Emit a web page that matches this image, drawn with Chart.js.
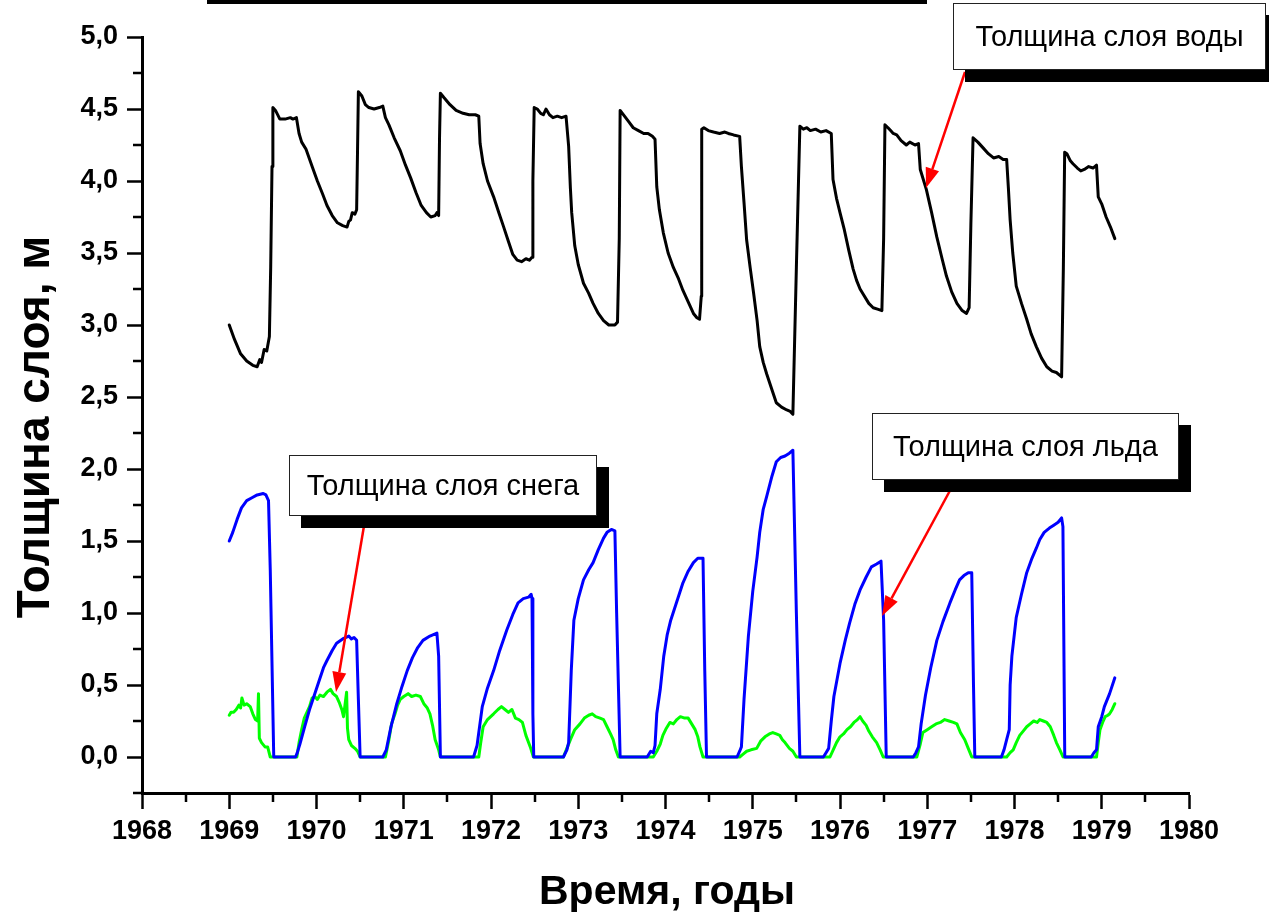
<!DOCTYPE html>
<html>
<head>
<meta charset="utf-8">
<script src="https://cdn.jsdelivr.net/npm/chart.js@4.4.1/dist/chart.umd.min.js"></script>
<style>
  html, body { margin: 0; padding: 0; background: #fff; }
  #wrap { width: 1269px; height: 917px; position: relative; }
</style>
</head>
<body>
<div id="wrap"><canvas id="c" width="1269" height="917"></canvas></div>
<script>
// Water layer thickness, m
const waterYears = [
  1969.00,1969.06,1969.13,1969.20,1969.27,1969.32,1969.35,1969.37,1969.40,1969.43,1969.46,1969.475,1969.49,1969.50,1969.53,1969.58,1969.64,1969.70,1969.73,1969.77,
  1969.80,1969.83,1969.88,1969.95,1970.01,1970.07,1970.12,1970.18,1970.24,1970.30,1970.35,1970.37,1970.39,1970.41,1970.44,1970.46,1970.47,1970.48,1970.52,1970.56,
  1970.60,1970.66,1970.72,1970.76,1970.79,1970.83,1970.89,1970.96,1971.02,1971.08,1971.14,1971.20,1971.26,1971.31,1971.36,1971.38,1971.40,1971.41,1971.42,1971.46,
  1971.53,1971.60,1971.68,1971.75,1971.82,1971.86,1971.875,1971.91,1971.96,1972.03,1972.09,1972.14,1972.20,1972.25,1972.30,1972.35,1972.40,1972.44,1972.47,1972.48,
  1972.495,1972.53,1972.57,1972.60,1972.63,1972.67,1972.71,1972.76,1972.81,1972.86,1972.89,1972.91,1972.925,1972.96,1973.00,1973.06,1973.12,1973.17,1973.23,1973.29,
  1973.35,1973.42,1973.45,1973.47,1973.48,1973.53,1973.58,1973.63,1973.69,1973.75,1973.80,1973.85,1973.88,1973.90,1973.93,1973.975,1974.03,1974.09,1974.15,1974.20,
  1974.26,1974.32,1974.36,1974.39,1974.41,1974.415,1974.44,1974.49,1974.55,1974.62,1974.68,1974.72,1974.78,1974.85,1974.87,1974.90,1974.93,1974.97,1975.01,1975.05,
  1975.08,1975.12,1975.16,1975.22,1975.27,1975.33,1975.39,1975.43,1975.46,1975.50,1975.54,1975.58,1975.62,1975.66,1975.72,1975.78,1975.84,1975.90,1975.92,1975.96,
  1976.00,1976.05,1976.10,1976.15,1976.19,1976.23,1976.27,1976.33,1976.38,1976.43,1976.48,1976.50,1976.515,1976.55,1976.58,1976.61,1976.65,1976.70,1976.76,1976.80,
  1976.86,1976.90,1976.92,1976.99,1977.05,1977.11,1977.17,1977.22,1977.28,1977.34,1977.40,1977.45,1977.48,1977.50,1977.525,1977.58,1977.64,1977.70,1977.76,1977.82,
  1977.87,1977.91,1977.93,1977.95,1977.98,1978.02,1978.08,1978.14,1978.19,1978.25,1978.31,1978.37,1978.43,1978.48,1978.52,1978.54,1978.56,1978.575,1978.60,1978.64,
  1978.67,1978.72,1978.76,1978.80,1978.85,1978.90,1978.94,1978.96,1979.00,1979.05,1979.10,1979.15
];
const waterDepth = [
  3.00,2.90,2.80,2.75,2.72,2.71,2.76,2.74,2.83,2.82,2.92,3.40,4.10,4.51,4.49,4.43,4.43,4.44,4.43,4.44,
  4.33,4.27,4.22,4.10,4.00,3.91,3.83,3.76,3.71,3.69,3.68,3.72,3.73,3.78,3.77,3.80,4.20,4.62,4.59,4.53,
  4.51,4.50,4.51,4.52,4.44,4.39,4.30,4.21,4.11,4.02,3.92,3.83,3.78,3.75,3.76,3.78,3.76,4.30,4.61,4.58,
  4.53,4.49,4.47,4.46,4.46,4.45,4.26,4.12,4.00,3.89,3.78,3.69,3.58,3.49,3.45,3.44,3.46,3.45,3.47,4.00,
  4.51,4.50,4.47,4.46,4.50,4.46,4.44,4.45,4.44,4.45,4.24,3.95,3.78,3.55,3.42,3.29,3.22,3.15,3.08,3.03,
  3.00,3.00,3.02,3.60,4.49,4.45,4.41,4.37,4.35,4.33,4.33,4.31,4.29,3.96,3.80,3.64,3.50,3.40,3.32,3.24,
  3.16,3.08,3.05,3.04,3.20,4.36,4.37,4.35,4.34,4.33,4.34,4.33,4.32,4.31,4.10,3.85,3.59,3.40,3.22,3.03,
  2.85,2.74,2.66,2.55,2.46,2.43,2.41,2.40,2.38,3.40,4.38,4.36,4.37,4.35,4.36,4.34,4.35,4.33,4.01,3.88,
  3.78,3.66,3.52,3.39,3.31,3.25,3.21,3.15,3.12,3.11,3.10,3.60,4.39,4.37,4.35,4.33,4.32,4.28,4.25,4.27,
  4.25,4.26,4.08,3.94,3.78,3.61,3.46,3.34,3.23,3.15,3.10,3.08,3.12,3.70,4.30,4.27,4.23,4.19,4.16,4.17,
  4.15,4.15,3.95,3.73,3.50,3.27,3.15,3.04,2.94,2.85,2.77,2.71,2.68,2.67,2.65,2.64,3.40,4.20,4.19,4.14,
  4.12,4.09,4.07,4.08,4.10,4.09,4.11,3.89,3.84,3.75,3.68,3.60
];

// Ice layer thickness, m
const iceYears = [
  1969.00,1969.04,1969.09,1969.14,1969.20,1969.26,1969.32,1969.39,1969.42,1969.45,1969.47,1969.51,1969.76,1969.78,1969.81,1969.86,1969.92,1969.97,1970.03,1970.08,
  1970.12,1970.18,1970.23,1970.30,1970.37,1970.40,1970.43,1970.46,1970.48,1970.50,1970.76,1970.80,1970.85,1970.92,1970.98,1971.04,1971.10,1971.16,1971.22,1971.30,
  1971.38,1971.40,1971.42,1971.80,1971.84,1971.90,1971.96,1972.03,1972.10,1972.18,1972.25,1972.31,1972.37,1972.43,1972.46,1972.47,1972.48,1972.49,1972.83,1972.87,
  1972.89,1972.92,1972.95,1973.00,1973.06,1973.12,1973.17,1973.23,1973.29,1973.33,1973.38,1973.42,1973.44,1973.48,1973.79,1973.83,1973.86,1973.88,1973.90,1973.94,
  1973.98,1974.02,1974.06,1974.13,1974.20,1974.26,1974.32,1974.37,1974.43,1974.45,1974.47,1974.82,1974.85,1974.87,1974.90,1974.95,1975.00,1975.05,1975.08,1975.12,
  1975.16,1975.22,1975.27,1975.32,1975.37,1975.42,1975.46,1975.50,1975.54,1975.81,1975.84,1975.87,1975.90,1975.93,1976.00,1976.06,1976.11,1976.17,1976.23,1976.30,
  1976.36,1976.42,1976.47,1976.50,1976.53,1976.84,1976.87,1976.90,1976.93,1976.98,1977.04,1977.11,1977.18,1977.26,1977.32,1977.37,1977.42,1977.47,1977.51,1977.53,
  1977.545,1977.85,1977.88,1977.91,1977.94,1977.95,1977.97,1978.02,1978.08,1978.14,1978.20,1978.25,1978.29,1978.34,1978.40,1978.45,1978.50,1978.54,1978.555,1978.576,
  1978.88,1978.91,1978.94,1978.96,1979.00,1979.03,1979.09,1979.15
];
const iceDepth = [
  1.50,1.56,1.65,1.73,1.78,1.80,1.82,1.83,1.82,1.78,1.30,0.00,0.00,0.03,0.09,0.20,0.33,0.42,0.53,0.62,
  0.67,0.74,0.79,0.82,0.84,0.82,0.83,0.81,0.40,0.00,0.00,0.05,0.20,0.37,0.49,0.60,0.69,0.76,0.81,0.84,
  0.86,0.70,0.00,0.00,0.08,0.35,0.48,0.60,0.74,0.88,0.99,1.07,1.10,1.11,1.13,1.10,0.30,0.00,0.00,0.05,
  0.10,0.60,0.95,1.10,1.23,1.30,1.35,1.44,1.52,1.56,1.58,1.57,1.00,0.00,0.00,0.04,0.03,0.08,0.30,0.47,
  0.70,0.85,0.95,1.08,1.21,1.29,1.35,1.38,1.38,0.60,0.00,0.00,0.04,0.07,0.40,0.84,1.15,1.39,1.56,1.72,
  1.81,1.95,2.05,2.08,2.09,2.11,2.13,1.00,0.00,0.00,0.03,0.06,0.25,0.42,0.65,0.81,0.93,1.06,1.16,1.25,
  1.32,1.34,1.36,0.95,0.00,0.00,0.03,0.07,0.23,0.43,0.62,0.81,0.94,1.07,1.16,1.23,1.26,1.28,1.28,0.50,
  0.00,0.00,0.05,0.12,0.19,0.50,0.70,0.97,1.13,1.28,1.38,1.45,1.51,1.56,1.59,1.61,1.63,1.66,1.60,0.00,
  0.00,0.03,0.05,0.21,0.28,0.35,0.44,0.55
];

// Snow layer thickness, m
const snowYears = [
  1969.00,1969.02,1969.05,1969.08,1969.11,1969.13,1969.145,1969.17,1969.20,1969.24,1969.27,1969.30,1969.325,1969.335,1969.345,1969.37,1969.41,1969.44,1969.47,1969.775,
  1969.80,1969.83,1969.86,1969.89,1969.92,1969.95,1969.98,1970.01,1970.04,1970.08,1970.12,1970.16,1970.19,1970.23,1970.26,1970.29,1970.31,1970.345,1970.355,1970.37,
  1970.40,1970.44,1970.47,1970.50,1970.79,1970.83,1970.86,1970.90,1970.93,1970.96,1971.00,1971.05,1971.09,1971.14,1971.19,1971.23,1971.27,1971.30,1971.33,1971.36,
  1971.40,1971.42,1971.86,1971.88,1971.91,1971.96,1972.03,1972.08,1972.12,1972.16,1972.20,1972.24,1972.28,1972.32,1972.36,1972.40,1972.45,1972.486,1972.83,1972.87,
  1972.91,1972.96,1973.02,1973.07,1973.12,1973.16,1973.20,1973.25,1973.29,1973.33,1973.37,1973.40,1973.43,1973.46,1973.86,1973.90,1973.94,1973.97,1974.01,1974.05,
  1974.09,1974.13,1974.17,1974.22,1974.26,1974.30,1974.34,1974.37,1974.395,1974.43,1974.85,1974.89,1974.93,1974.98,1975.045,1975.09,1975.14,1975.19,1975.23,1975.27,
  1975.31,1975.34,1975.37,1975.42,1975.46,1975.50,1975.885,1975.93,1975.96,1976.00,1976.04,1976.08,1976.12,1976.16,1976.20,1976.23,1976.26,1976.30,1976.33,1976.37,
  1976.42,1976.46,1976.495,1976.88,1976.92,1976.95,1977.00,1977.05,1977.10,1977.15,1977.20,1977.25,1977.30,1977.34,1977.38,1977.43,1977.47,1977.51,1977.91,1977.95,
  1977.985,1978.02,1978.06,1978.10,1978.14,1978.18,1978.22,1978.26,1978.29,1978.33,1978.37,1978.41,1978.45,1978.48,1978.52,1978.556,1978.94,1978.96,1978.98,1979.01,
  1979.04,1979.07,1979.09,1979.12,1979.15
];
const snowDepth = [
  0.29,0.31,0.31,0.33,0.36,0.34,0.41,0.36,0.37,0.35,0.30,0.26,0.25,0.44,0.13,0.10,0.07,0.07,0.00,0.00,
  0.10,0.19,0.27,0.31,0.35,0.41,0.42,0.40,0.43,0.42,0.45,0.47,0.44,0.42,0.38,0.33,0.28,0.45,0.20,0.12,
  0.08,0.06,0.04,0.00,0.00,0.12,0.23,0.30,0.36,0.40,0.42,0.44,0.42,0.43,0.42,0.37,0.34,0.30,0.22,0.12,
  0.05,0.00,0.00,0.09,0.21,0.26,0.30,0.33,0.35,0.33,0.31,0.33,0.27,0.26,0.24,0.15,0.07,0.00,0.00,0.06,
  0.12,0.19,0.23,0.27,0.29,0.30,0.28,0.27,0.26,0.21,0.16,0.12,0.05,0.00,0.00,0.04,0.09,0.15,0.20,0.24,
  0.23,0.26,0.28,0.27,0.27,0.23,0.19,0.14,0.07,0.00,0.00,0.02,0.04,0.05,0.06,0.11,0.14,0.16,0.17,0.16,
  0.15,0.12,0.10,0.06,0.04,0.00,0.00,0.06,0.10,0.14,0.16,0.19,0.21,0.24,0.26,0.28,0.25,0.22,0.18,0.14,
  0.10,0.05,0.00,0.00,0.09,0.17,0.19,0.21,0.23,0.24,0.26,0.25,0.24,0.23,0.17,0.12,0.06,0.00,0.00,0.03,
  0.05,0.10,0.15,0.18,0.21,0.23,0.25,0.24,0.26,0.25,0.24,0.21,0.15,0.10,0.05,0.00,0.00,0.10,0.19,0.24,
  0.28,0.29,0.30,0.33,0.37
];

// Axis ticks
const yearTicks = [1968,1969,1970,1971,1972,1973,1974,1975,1976,1977,1978,1979,1980];
const yearMinorTicks = [1968.5,1969.5,1970.5,1971.5,1972.5,1973.5,1974.5,1975.5,1976.5,1977.5,1978.5,1979.5];
const depthTicks = [0.0,0.5,1.0,1.5,2.0,2.5,3.0,3.5,4.0,4.5,5.0];
const depthMinorTicks = [-0.25,0.25,0.75,1.25,1.75,2.25,2.75,3.25,3.75,4.25,4.75];

// Text
const xTitle = 'Время, годы';
const yTitle = 'Толщина слоя, м';
const labelWater = 'Толщина слоя воды';
const labelSnow = 'Толщина слоя снега';
const labelIce = 'Толщина слоя льда';

const toPoints = (xs, ys) => xs.map((x, i) => ({ x: x, y: ys[i] }));
const FONT = "'Liberation Sans', Arial, sans-serif";

// Callout boxes with drop shadow and red arrows, plus axis titles and minor ticks
const decorations = {
  id: 'decorations',
  afterDraw(chart) {
    const ctx = chart.ctx;
    const xs = chart.scales.x, ys = chart.scales.y;
    const area = chart.chartArea;
    ctx.save();

    // minor ticks
    ctx.strokeStyle = '#000';
    ctx.lineWidth = 2.5;
    ctx.beginPath();
    yearMinorTicks.forEach(v => {
      const px = Math.round(xs.getPixelForValue(v));
      ctx.moveTo(px, area.bottom);
      ctx.lineTo(px, area.bottom + 9);
    });
    depthMinorTicks.forEach(v => {
      const py = Math.round(ys.getPixelForValue(v));
      ctx.moveTo(area.left - 9, py);
      ctx.lineTo(area.left, py);
    });
    ctx.stroke();

    // axis titles
    ctx.fillStyle = '#000';
    ctx.textAlign = 'center';
    ctx.textBaseline = 'middle';
    ctx.font = 'bold 41px ' + FONT;
    ctx.fillText(xTitle, 667, 893);
    ctx.save();
    ctx.translate(36, 427);
    ctx.rotate(-Math.PI / 2);
    ctx.font = 'bold 46px ' + FONT;
    ctx.fillText(yTitle, 0, 0);
    ctx.restore();

    // bar along the top edge
    ctx.fillRect(207, 0, 720, 4);

    const arrow = (x1, y1, x2, y2) => {
      const ang = Math.atan2(y2 - y1, x2 - x1);
      const hl = 20, hw = 7;
      const bx = x2 - hl * Math.cos(ang), by = y2 - hl * Math.sin(ang);
      ctx.strokeStyle = '#ff0000';
      ctx.fillStyle = '#ff0000';
      ctx.lineWidth = 2.5;
      ctx.beginPath();
      ctx.moveTo(x1, y1);
      ctx.lineTo(bx, by);
      ctx.stroke();
      ctx.beginPath();
      ctx.moveTo(x2, y2);
      ctx.lineTo(bx + hw * Math.sin(ang), by - hw * Math.cos(ang));
      ctx.lineTo(bx - hw * Math.sin(ang), by + hw * Math.cos(ang));
      ctx.closePath();
      ctx.fill();
    };

    const callout = (x, y, w, h, text) => {
      ctx.fillStyle = '#000';
      ctx.fillRect(x + 12, y + 12, w, h);
      ctx.fillStyle = '#fff';
      ctx.fillRect(x, y, w, h);
      ctx.strokeStyle = '#222';
      ctx.lineWidth = 1;
      ctx.strokeRect(x + 0.5, y + 0.5, w - 1, h - 1);
      ctx.fillStyle = '#000';
      ctx.font = '29px ' + FONT;
      ctx.textAlign = 'center';
      ctx.textBaseline = 'middle';
      ctx.fillText(text, x + w / 2, y + h / 2 + 1);
    };

    arrow(965, 72, 926, 188);
    arrow(365, 520, 336, 692);
    arrow(953, 485, 882, 616);

    callout(953, 3, 313, 67, labelWater);
    callout(289, 455, 308, 61, labelSnow);
    callout(872, 413, 307, 67, labelIce);

    ctx.restore();
  }
};

new Chart(document.getElementById('c'), {
  type: 'line',
  data: {
    datasets: [
      { label: labelWater, data: toPoints(waterYears, waterDepth), borderColor: '#000000', borderWidth: 3 },
      { label: labelIce, data: toPoints(iceYears, iceDepth), borderColor: '#0000ff', borderWidth: 3 },
      { label: labelSnow, data: toPoints(snowYears, snowDepth), borderColor: '#00ff00', borderWidth: 3 }
    ]
  },
  options: {
    responsive: false,
    animation: false,
    devicePixelRatio: 1,
    parsing: false,
    elements: { point: { radius: 0 }, line: { tension: 0, borderJoinStyle: 'round', borderCapStyle: 'round', fill: false } },
    layout: { padding: { top: 37, right: 80, bottom: 0, left: 0 } },
    plugins: { legend: { display: false }, tooltip: { enabled: false } },
    scales: {
      x: {
        type: 'linear', min: 1968, max: 1980,
        afterBuildTicks: s => { s.ticks = yearTicks.map(v => ({ value: v })); },
        afterFit: s => { s.height = 124; },
        grid: { display: true, drawOnChartArea: false, drawTicks: true, tickLength: 16, tickWidth: 2.5, tickColor: '#000' },
        border: { display: true, color: '#000', width: 3 },
        ticks: {
          color: '#000', padding: 6, maxRotation: 0, autoSkip: false,
          font: { family: FONT, size: 27, weight: 'bold' },
          callback: v => String(v)
        }
      },
      y: {
        type: 'linear', min: -0.25, max: 5.0,
        afterBuildTicks: s => { s.ticks = depthTicks.map(v => ({ value: v })); },
        afterFit: s => { s.width = 142; },
        grid: { display: true, drawOnChartArea: false, drawTicks: true, tickLength: 15, tickWidth: 2.5, tickColor: '#000' },
        border: { display: true, color: '#000', width: 3 },
        ticks: {
          color: '#000', padding: 9, autoSkip: false,
          font: { family: FONT, size: 27, weight: 'bold' },
          callback: v => Number(v).toFixed(1).replace('.', ',')
        }
      }
    }
  },
  plugins: [decorations]
});
</script>
</body>
</html>
